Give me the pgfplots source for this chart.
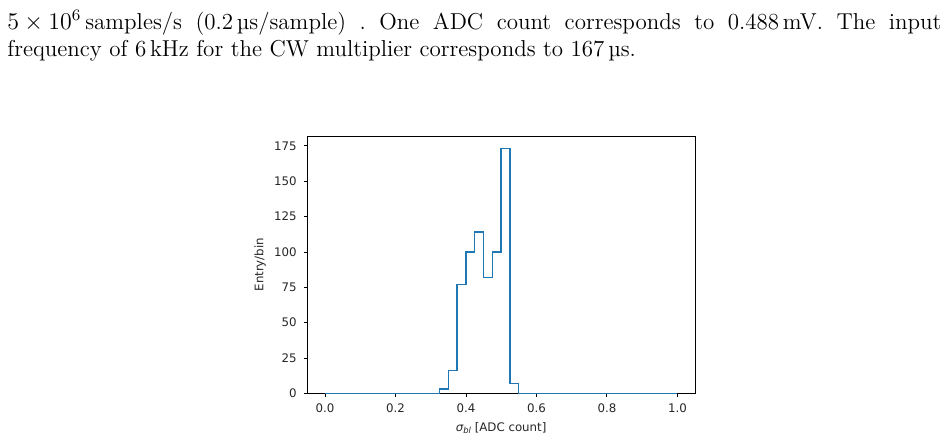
\documentclass[border=0pt]{standalone}
\usepackage{fontspec}
\usepackage{pgfplots}
\pgfplotsset{compat=1.18}
\newfontfamily\dejavu{DejaVu Sans}
\definecolor{mplblue}{HTML}{1F77B4}
\pgfplotstableread{
x y
0.000 0
0.025 0
0.050 0
0.075 0
0.100 0
0.125 0
0.150 0
0.175 0
0.200 0
0.225 0
0.250 0
0.275 0
0.300 0
0.325 3
0.350 16
0.375 77
0.400 100
0.425 114
0.450 82
0.475 100
0.500 173
0.525 7
0.550 0
0.575 0
0.600 0
0.625 0
0.650 0
0.675 0
0.700 0
0.725 0
0.750 0
0.775 0
0.800 0
0.825 0
0.850 0
0.875 0
0.900 0
0.925 0
0.950 0
0.975 0
1.000 0
}\histdata
\begin{document}
\begin{tikzpicture}[x=1pt,y=1pt]
\useasboundingbox (0,0) rectangle (474,-221);
\node[anchor=base west,inner sep=0pt] at (3.5,-14.6) {\fontsize{11.5}{14}\selectfont\frenchspacing\makebox[467pt][s]{\mbox{$5\times10^{6}$}\,samples/s (0.2\,µs/sample) . One ADC count corresponds to 0.488\,mV. The input}};
\node[anchor=base west,inner sep=0pt] at (3.5,-28.4) {\fontsize{11.5}{14}\selectfont frequency of 6\,kHz for the CW multiplier corresponds to 167\,µs.};
\begin{axis}[
  at={(153.65pt,-196.65pt)}, anchor=south west,
  scale only axis, width=193.85pt, height=128.65pt,
  xmin=-0.05, xmax=1.05, ymin=0, ymax=182,
  xtick={0,0.2,0.4,0.6,0.8,1},
  xticklabels={0.0,0.2,0.4,0.6,0.8,1.0},
  ytick={0,25,50,75,100,125,150,175},
  xtick pos=bottom, ytick pos=left,
  tick align=outside, major tick length=1.75pt,
  tick style={line width=0.4pt, black},
  axis line style={line width=0.4pt},
  /pgf/number format/assume math mode=true,
  ticklabel style={font=\dejavu\fontsize{5.9}{7}\selectfont, text=black!85},
  label style={font=\dejavu\fontsize{5.9}{7}\selectfont, text=black!85},
  xlabel={{\itshape σ}\raisebox{-0.35ex}{\fontsize{4.2}{5}\selectfont\itshape bl} [ADC count]},
  ylabel={Entry/bin},
  xlabel style={at={(axis description cs:0.5,-0.135)},anchor=center},
  ylabel style={at={(axis description cs:-0.122,0.5)},anchor=center},
]
\addplot[const plot mark left, mplblue, line width=0.7pt, mark=none] table[x=x,y=y] {\histdata};
\end{axis}
\end{tikzpicture}
\end{document}
